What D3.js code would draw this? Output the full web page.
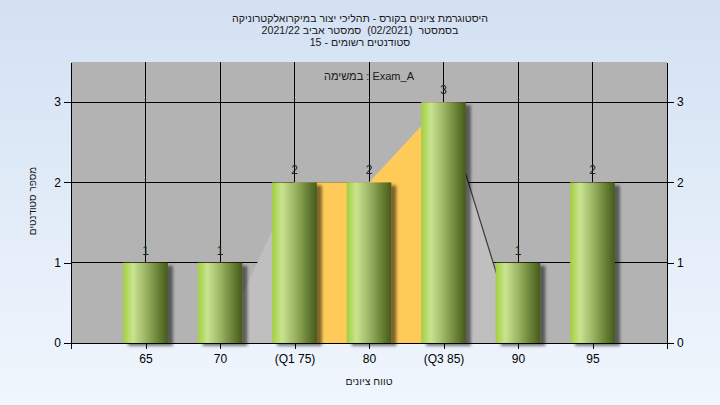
<!DOCTYPE html>
<html>
<head>
<meta charset="utf-8">
<script src="https://cdn.jsdelivr.net/npm/d3@7"></script>
<style>
  html, body { margin: 0; padding: 0; }
  body { width: 720px; height: 405px; overflow: hidden; }
  text { font-family: "Liberation Sans", Arial, sans-serif; }
</style>
</head>
<body>
<svg id="chart" width="720" height="405"></svg>
<script>
// ---- data ----
const categories = [65, 70, 75, 80, 85, 90, 95];
const tickLabels = ["65", "70", "(Q1 75)", "80", "(Q3 85)", "90", "95"];
const counts = [1, 1, 2, 2, 3, 1, 2];
const curveX = [70, 75, 80, 85, 90];
const curveY = [0, 2, 2, 3, 0];
const q1 = 75, q3 = 85;
const yTicks = [0, 1, 2, 3];
const titleLines = [
  "היסטוגרמת ציונים בקורס - תהליכי יצור במיקרואלקטרוניקה",
  "בסמסטר  (02/2021)  סמסטר אביב 2021/22",
  "סטודנטים רשומים - 15"
];
const taskLabel = "Exam_A : במשימה";
const xTitle = "טווח ציונים";
const yTitle = "מספר סטודנטים";

// ---- layout ----
const W = 720, H = 405;
const plot = { left: 71, right: 667, top: 62, bottom: 343 };
const svg = d3.select("#chart");
const defs = svg.append("defs");

const bg = defs.append("linearGradient").attr("id", "bg").attr("x1", 0).attr("y1", 0).attr("x2", 0).attr("y2", 1);
bg.append("stop").attr("offset", 0).attr("stop-color", "#d3e1f3");
bg.append("stop").attr("offset", 1).attr("stop-color", "#f0f6fd");

const bar = defs.append("linearGradient").attr("id", "barGrad").attr("x1", 0).attr("y1", 0).attr("x2", 1).attr("y2", 0);
[[0, "#a2cf40"], [0.22, "#c9e490"], [0.5, "#9db565"], [0.78, "#6a8236"], [1, "#465a1c"]]
  .forEach(([o, c]) => bar.append("stop").attr("offset", o).attr("stop-color", c));

const f = defs.append("filter").attr("id", "shadow").attr("x", "-20%").attr("y", "-20%").attr("width", "160%").attr("height", "140%");
f.append("feDropShadow").attr("dx", 5).attr("dy", 3).attr("stdDeviation", 1.6)
  .attr("flood-color", "#000").attr("flood-opacity", 0.5);

const x = d3.scaleLinear().domain([60, 100]).range([plot.left, plot.right]);
const y = d3.scaleLinear().domain([0, 3.5]).range([plot.bottom, plot.top]);

defs.append("clipPath").attr("id", "iqr").append("rect")
  .attr("x", x(q1)).attr("y", plot.top)
  .attr("width", x(q3) - x(q1)).attr("height", plot.bottom - plot.top);

svg.append("rect").attr("width", W).attr("height", H).attr("fill", "url(#bg)");
svg.append("rect").attr("x", plot.left).attr("y", plot.top)
  .attr("width", plot.right - plot.left).attr("height", plot.bottom - plot.top)
  .attr("fill", "#b3b3b3");

// grid
const grid = svg.append("g").attr("stroke", "#000").attr("stroke-width", 1).attr("shape-rendering", "crispEdges");
grid.selectAll("line.v").data(categories).join("line")
  .attr("x1", d => x(d)).attr("x2", d => x(d)).attr("y1", plot.top).attr("y2", plot.bottom);
grid.selectAll("line.h").data(yTicks.filter(d => d > 0)).join("line")
  .attr("x1", plot.left).attr("x2", plot.right).attr("y1", d => y(d)).attr("y2", d => y(d));

// area
const pts = curveX.map((v, i) => [v, curveY[i]]);
const area = d3.area().x(d => x(d[0])).y0(y(0)).y1(d => y(d[1]));
svg.append("path").datum(pts).attr("d", area).attr("fill", "#bfbfbf");
svg.append("path").datum(pts).attr("d", area).attr("fill", "#ffcb58").attr("clip-path", "url(#iqr)");
const line = d3.line().x(d => x(d[0])).y(d => y(d[1]));
svg.append("path").datum(pts.slice(3)).attr("d", line).attr("fill", "none")
  .attr("stroke", "#3a3a3a").attr("stroke-width", 1.2);

// bars
const half = 1.5;
svg.append("g").selectAll("rect").data(categories).join("rect")
  .attr("x", d => x(d - half)).attr("width", d => x(d + half) - x(d - half))
  .attr("y", (d, i) => y(counts[i])).attr("height", (d, i) => y(0) - y(counts[i]))
  .attr("fill", "url(#barGrad)").attr("filter", "url(#shadow)");

// value labels
svg.append("g").selectAll("text").data(categories).join("text")
  .attr("x", d => x(d)).attr("y", (d, i) => y(counts[i]) - 8)
  .attr("text-anchor", "middle").attr("font-size", 12).attr("fill", "#222")
  .text((d, i) => counts[i]);

// axes
const axisStyle = g => {
  g.selectAll("path,line").attr("stroke", "#000").attr("shape-rendering", "crispEdges");
  g.selectAll("text").attr("font-size", 12).attr("fill", "#000")
    .attr("font-family", '"Liberation Sans", Arial, sans-serif');
};
svg.append("g").attr("transform", `translate(0,${plot.bottom})`)
  .call(d3.axisBottom(x).tickValues(d3.range(60, 101, 5)).tickSize(6).tickSizeOuter(0)
    .tickFormat(d => { const i = categories.indexOf(d); return i >= 0 ? tickLabels[i] : ""; }))
  .call(axisStyle).call(g => g.selectAll("text").attr("dy", "0.95em"));
svg.append("g").attr("transform", `translate(${plot.left},0)`)
  .call(d3.axisLeft(y).tickValues(yTicks).tickSize(7).tickSizeOuter(0).tickFormat(d3.format("d")))
  .call(axisStyle);
svg.append("g").attr("transform", `translate(${plot.right},0)`)
  .call(d3.axisRight(y).tickValues(yTicks).tickSize(7).tickSizeOuter(0).tickFormat(d3.format("d")))
  .call(axisStyle);

// titles
svg.append("g").selectAll("text").data(titleLines).join("text")
  .attr("x", 360).attr("y", (d, i) => 21.5 + i * 12.3)
  .attr("text-anchor", "middle").attr("direction", "rtl").attr("unicode-bidi", "embed")
  .attr("font-size", 10.6).attr("fill", "#1a1a1a")
  .style("white-space", "pre")
  .text(d => d);

svg.append("text").attr("x", (plot.left + plot.right) / 2).attr("y", 80)
  .attr("text-anchor", "middle").attr("direction", "rtl").attr("unicode-bidi", "embed")
  .attr("font-size", 11).attr("fill", "#1a1a1a").text(taskLabel);

svg.append("text").attr("x", (plot.left + plot.right) / 2).attr("y", 385)
  .attr("text-anchor", "middle").attr("direction", "rtl").attr("unicode-bidi", "embed")
  .attr("font-size", 10.5).attr("fill", "#1a1a1a").text(xTitle);

svg.append("text").attr("transform", `translate(36,201) rotate(-90)`)
  .attr("text-anchor", "middle").attr("direction", "rtl").attr("unicode-bidi", "embed")
  .attr("font-size", 10).attr("fill", "#1a1a1a").text(yTitle);
</script>
</body>
</html>
